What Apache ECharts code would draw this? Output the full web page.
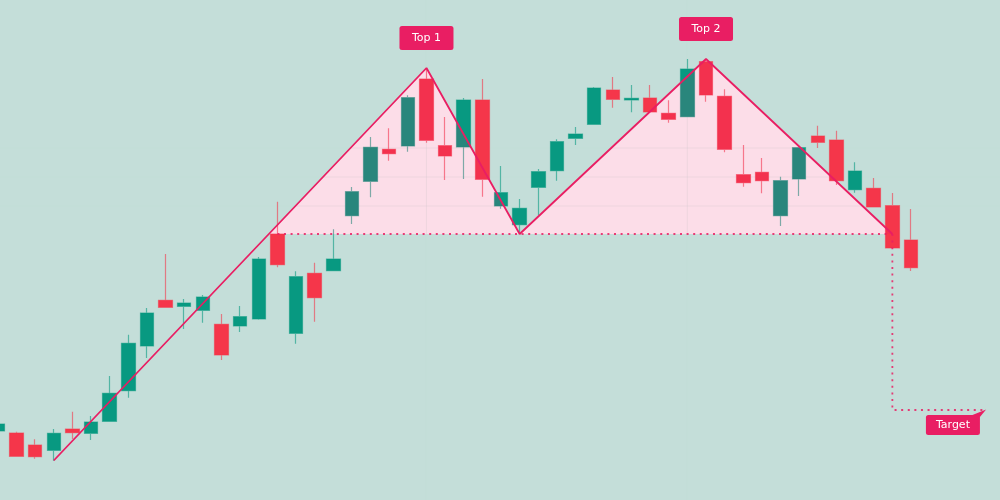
<!DOCTYPE html>
<html><head><meta charset="utf-8">
<style>html,body{margin:0;padding:0;background:#c4ded9}#c{width:1000px;height:500px}</style>
<script src="https://cdn.jsdelivr.net/npm/echarts@6/dist/echarts.min.js"></script>
</head><body><div id="c"></div>
<script>
const opens  = [69,67,55,49.7,71,66.7,78.7,109.3,154,199.7,193.7,189.7,175.7,174,181,266,166.7,226.7,229.3,284.3,318.7,350.7,354,421,354.3,353,400,294,275.3,312.7,329.3,361.7,375.7,410,400,402,386.7,383.3,438.3,403.7,325.3,327.7,284.3,321,364,360,310.3,311.7,294.3,260];
const closes = [76,43.7,43.3,66.7,67.3,78,106.7,156.7,187,192.7,197,203,145,183.3,241,235.3,223.3,202.3,241,308.3,352.7,346.3,402.3,359.7,344,400,320.7,307.3,291.7,328.3,358.3,366,412,400.7,401.7,388,380.7,431,405,350.7,317.3,319.3,319.3,352.3,357.7,319.3,329,293,252,232.3];
const lows   = [69,43.3,41.3,39.3,61,60,78.7,102.3,142,192.7,171,177.3,140,168,180.3,232.7,156.3,178.3,229.3,276,302.7,339.3,348.3,357.3,320,321,303.3,291.3,267.3,285,319.3,355,375.7,392.3,387.7,388,377.3,383.3,398.3,347.7,313.3,306.7,274,304,352,315,307.3,293,252,229];
const highs  = [76,68.3,60.7,71,88.3,84,124,165.3,192,246,201,205,186,194,243,298.3,228.7,237.3,270.7,313,363,371.7,404.7,431.7,383,402,421,334,301,331,360.7,373,413,423,415,415,399.7,441,440,410.7,355,342,323.3,352.3,374.3,369.3,337.7,322,307,291];

const patternPath = [[3,39.5],[23,432],[28,266],[38,441],[48,266]];
const areaPath    = [[14.55,266],[23,432],[28,266],[38,441],[48,266]];
const necklinePath = [[15,266],[48,266]];
const targetPath  = [[48,266],[48,90],[53,90]];
const tailPoints  = [[53.03,90.5],[52.7,83],[52.3,85]];
const guideLevels = [294,323,352];
const guideBars   = [23,37];
const tagTexts = ['Top 1','Top 2','Target'];
const tagBars  = [23,38,51.25];
const tagLevels = [462,471,75];

const BG='#c4ded9', PINK='#e91e63', UP='#089981', DOWN='#f5364a';
const chart = echarts.init(document.getElementById('c'), null, {renderer:'canvas'});

function poly(api, pts, fill){
  return {type:'polygon', shape:{points:pts.map(p=>api.coord(p))}, style:{fill:fill}, silent:true};
}
function hline(api, v, stroke){
  const a=api.coord([0,v]), b=api.coord([54,v]);
  return {type:'line', shape:{x1:a[0],y1:a[1],x2:b[0],y2:b[1]}, style:{stroke:stroke,lineWidth:1}, silent:true};
}
function vline(api, x, stroke){
  const a=api.coord([x,0]), b=api.coord([x,500]);
  return {type:'line', shape:{x1:a[0],y1:a[1],x2:b[0],y2:b[1]}, style:{stroke:stroke,lineWidth:1}, silent:true};
}

chart.setOption({
  animation:false,
  backgroundColor:BG,
  tooltip:{show:false},
  grid:{left:0, top:0, right:0, bottom:0, containLabel:false},
  xAxis:{type:'value', min:0.1146, max:53.776, show:false, splitLine:{show:false}},
  yAxis:{type:'value', min:0, max:500, show:false, splitLine:{show:false}},
  series:[
    {type:'custom', name:'zoneBase', z:1, clip:false, data:[0], silent:true,
     renderItem:(p,api)=>({type:'group', children:[
        poly(api, areaPath, '#ffffff'),
        ...guideLevels.map(v=>hline(api,v,'rgba(196,222,217,0.25)')),
        ...guideBars.map(x=>vline(api,x,'rgba(196,222,217,0.25)'))
     ]})},
    {type:'candlestick', name:'price', z:3, barWidth:14, clip:true,
     encode:{x:0,y:[1,2,3,4]},
     data:opens.map((o,i)=>[i,o,closes[i],lows[i],highs[i]]),
     itemStyle:{color:UP,color0:DOWN,borderColor:'rgba(8,153,129,0.6)',borderColor0:'rgba(245,54,74,0.6)',borderWidth:1.2}},
    {type:'custom', name:'zoneTint', z:4, clip:false, data:[0], silent:true,
     renderItem:(p,api)=>poly(api, areaPath, 'rgba(233,30,99,0.15)')},
    {type:'line', name:'pattern', z:5, data:patternPath, symbol:'none', silent:true,
     lineStyle:{color:PINK,width:1.8}},
    {type:'line', name:'neckline', z:5, data:necklinePath, symbol:'none', silent:true,
     lineStyle:{color:PINK,width:1.8,type:[2,4.6],opacity:.85}},
    {type:'line', name:'target', z:5, data:targetPath, symbol:'none', silent:true,
     lineStyle:{color:PINK,width:1.8,type:[2,4.6],opacity:.85}},
    {type:'custom', name:'tail', z:6, clip:false, data:[0], silent:true,
     renderItem:(p,api)=>poly(api, tailPoints, PINK)},
    {type:'scatter', name:'tags', z:7, symbolSize:1, silent:true,
     itemStyle:{color:PINK,opacity:1},
     data:tagTexts.map((t,i)=>({value:[tagBars[i],tagLevels[i]],name:t,
       label:{height:i===2?20:24, lineHeight:i===2?20:24}})),
     label:{show:true, position:'inside', formatter:d=>d.name, color:'#fff',
       fontFamily:'DejaVu Sans', fontSize:11, backgroundColor:PINK, borderRadius:2.5,
       width:54, align:'center', verticalAlign:'middle', opacity:1}}
  ]
});
</script></body></html>
